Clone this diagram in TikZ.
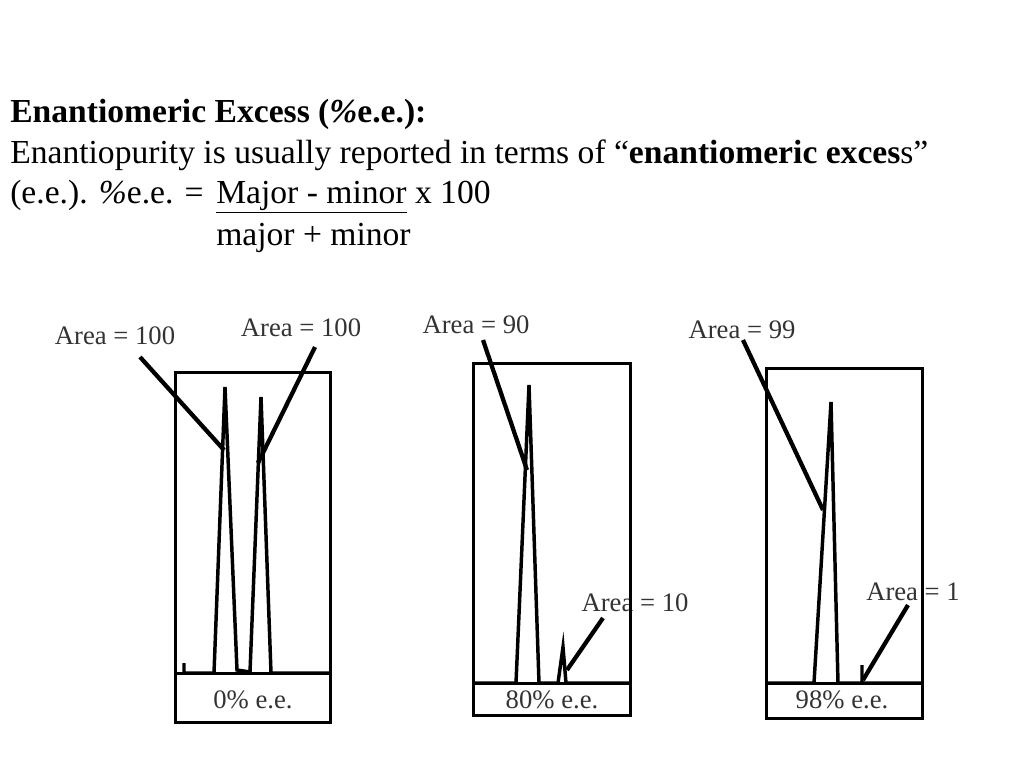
\documentclass[tikz,border=0pt]{standalone}
\usepackage{fontspec}
\setmainfont{Liberation Serif}
\begin{document}
\begin{tikzpicture}[x=0.75pt,y=-0.75pt,
  hdr/.style={anchor=base west, inner sep=0pt, font=\fontsize{25.2}{30}\selectfont},
  lbl/.style={inner sep=0pt, text=black!80, font=\fontsize{20}{24}\selectfont},
  frame/.style={draw=black, line width=2.25pt},
  trace/.style={draw=black, line width=2.6pt, line join=miter},
  leader/.style={draw=black, line width=3.2pt}]
\useasboundingbox (0,0) rectangle (1024,768);
\fill[white] (0,0) rectangle (1024,768);

% header text
\node[hdr] (t1) at (10,122) {\textbf{Enantiomeric Excess (\textit{\%}e.e.):}};
\node[hdr] (t2) at (10,163) {Enantiopurity is usually reported in terms of “\textbf{enantiomeric exces}s”};
\node[hdr] (t3) at (10,203) {(e.e.). \textit{\%}e.e. =};
\node[hdr] (t3b) at (216,203) {\underline{Major - minor} x 100};
\node[hdr] (t4) at (216,245) {major + minor};

% panel 1
\node[lbl] (a1) at (115,336) {Area = 100};
\node[lbl] (a2) at (301,328) {Area = 100};
\node[lbl] (p1) at (253,700) {0\% e.e.};
\draw[frame] (175,372) rectangle (330,722);
\draw[frame] (175,673) -- (330,673);
\draw[trace] (184,663) -- (184,673) -- (214,673) -- (225,387) -- (237,670) -- (250,672) -- (261,397) -- (271,673) -- (330,673);
\coordinate (a1s) at (140,357); \coordinate (a1e) at (224,450);
\coordinate (a2s) at (315,347); \coordinate (a2e) at (258,463);
\draw[leader] (a1s) -- (a1e);
\draw[leader] (a2s) -- (a2e);

% panel 2
\node[lbl] (b1) at (476,325) {Area = 90};
\node[lbl] (b2) at (635,603) {Area = 10};
\node[lbl] (p2) at (552,700) {80\% e.e.};
\draw[frame] (473,363) rectangle (630,715);
\draw[frame] (473,683) -- (630,683);
\draw[trace] (473,683) -- (516,683) -- (529,385) -- (539,683) -- (558,683) -- (563,647) -- (566,683) -- (630,683);
\coordinate (b1s) at (483,340); \coordinate (b1e) at (527,470);
\coordinate (b2s) at (603,618); \coordinate (b2e) at (567,670);
\draw[leader] (b1s) -- (b1e);
\draw[leader] (b2s) -- (b2e);

% panel 3
\node[lbl] (c1) at (742,330) {Area = 99};
\node[lbl] (c2) at (913,592) {Area = 1};
\node[lbl] (p3) at (842,700) {98\% e.e.};
\draw[frame] (766,368) rectangle (922,718);
\draw[frame] (766,683) -- (922,683);
\draw[trace] (766,683) -- (814,683) -- (831,402) -- (838,683) -- (862,683) -- (862,665) -- (862,683) -- (922,683);
\coordinate (c1s) at (743,340); \coordinate (c1e) at (823,510);
\coordinate (c2s) at (908,605); \coordinate (c2e) at (863,680);
\draw[leader] (c1s) -- (c1e);
\draw[leader] (c2s) -- (c2e);
\end{tikzpicture}
\end{document}
